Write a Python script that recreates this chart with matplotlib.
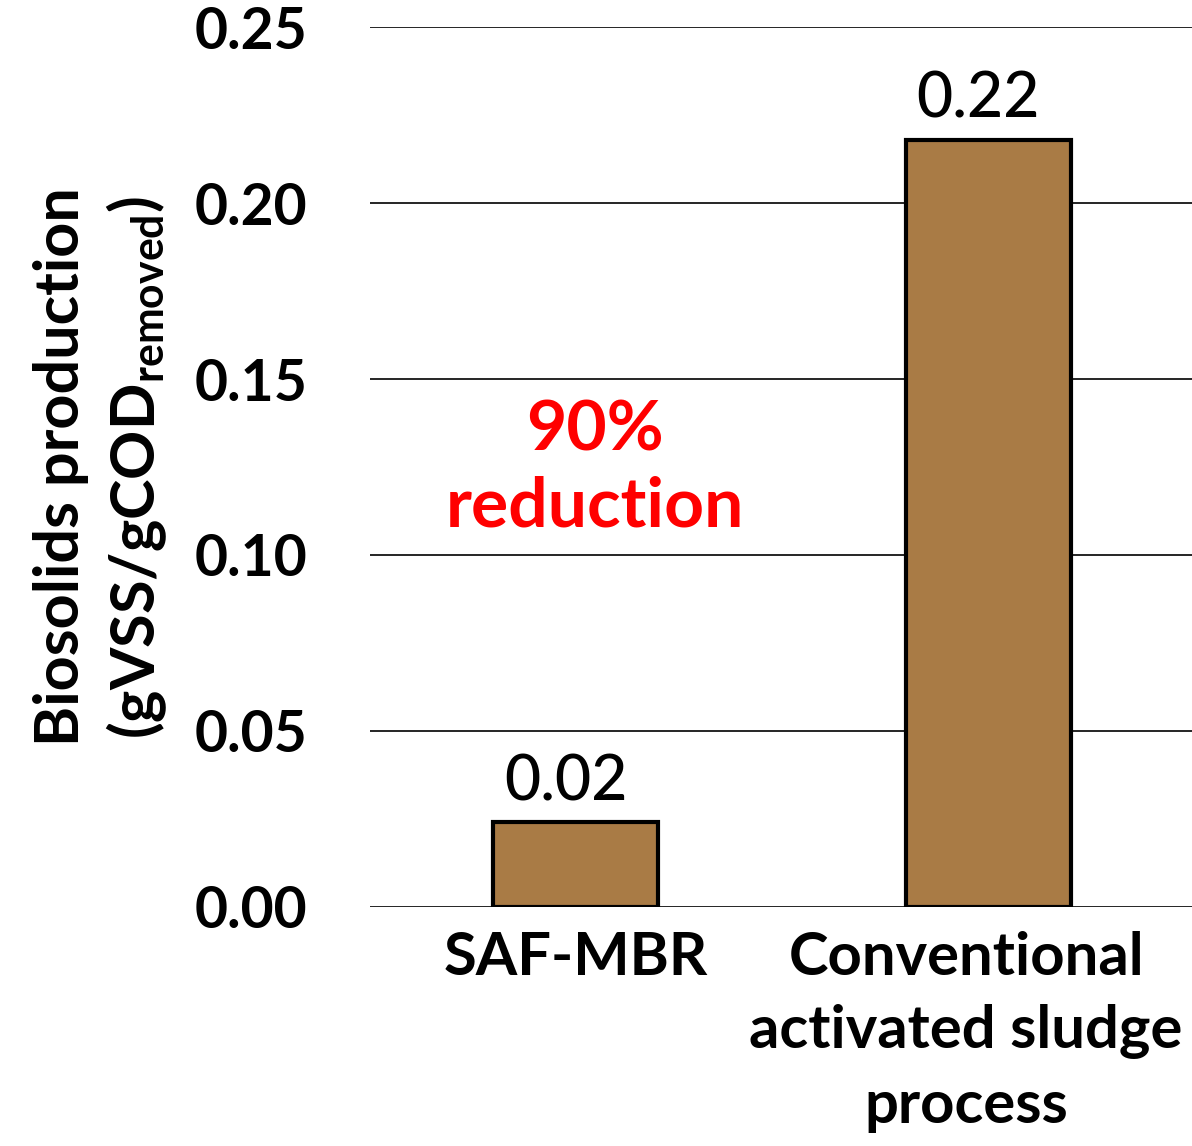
import matplotlib
matplotlib.use("Agg")
import matplotlib.pyplot as plt
from matplotlib.transforms import ScaledTranslation

# biosolids yield per process
categories = ["SAF-MBR", "Conventional\nactivated sludge\nprocess"]
values = [0.024, 0.218]
yticks = [0.00, 0.05, 0.10, 0.15, 0.20, 0.25]

plt.rcParams['font.family'] = ['Lato', 'DejaVu Sans']

fig = plt.figure(figsize=(11.92, 11.46), dpi=100)
ax = fig.add_axes([0.31, 0.2086, 0.692, 0.7678])

x = list(range(len(categories)))
ax.bar(x, values, width=0.4, color="#A97B45", edgecolor="black",
       linewidth=3, zorder=3)

# value labels above bars
for xi, v in zip(x, values):
    ax.annotate(f"{v:.2f}", xy=(xi, v), xytext=(-7, 8),
                textcoords="offset points", ha="center", va="bottom",
                fontsize=45, fontweight="medium", color="black")

ax.text(0.047, 0.1244, "90%\nreduction", ha="center", va="center",
        fontsize=50, fontweight="bold", color="#FF0000", linespacing=1.27)

ax.set_xlim(-0.5, 1.5)
ax.set_ylim(0, 0.25)
ax.set_yticks(yticks)
ax.set_yticklabels([f"{t:.2f}" for t in yticks], fontsize=41, fontweight="bold")
ax.set_xticks(x)
ax.set_xticklabels(categories, fontsize=43, fontweight="bold", linespacing=1.45)
ax.tick_params(axis="both", length=0)
ax.tick_params(axis="y", pad=45)
ax.tick_params(axis="x", pad=17)

# long label sits a little left of its bar
lbl = ax.get_xticklabels()[1]
lbl.set_transform(lbl.get_transform() + ScaledTranslation(-0.22, 0, fig.dpi_scale_trans))

ax.yaxis.grid(True, color="black", linewidth=1.2, zorder=0)
ax.set_axisbelow(True)
for s in ax.spines.values():
    s.set_visible(False)

ax.set_ylabel("Biosolids production\n(gVSS/gCOD$_{\\mathregular{removed}}$)",
              fontsize=44, fontweight="bold", linespacing=1.3, labelpad=18)

fig.savefig("out.png", dpi=100)
